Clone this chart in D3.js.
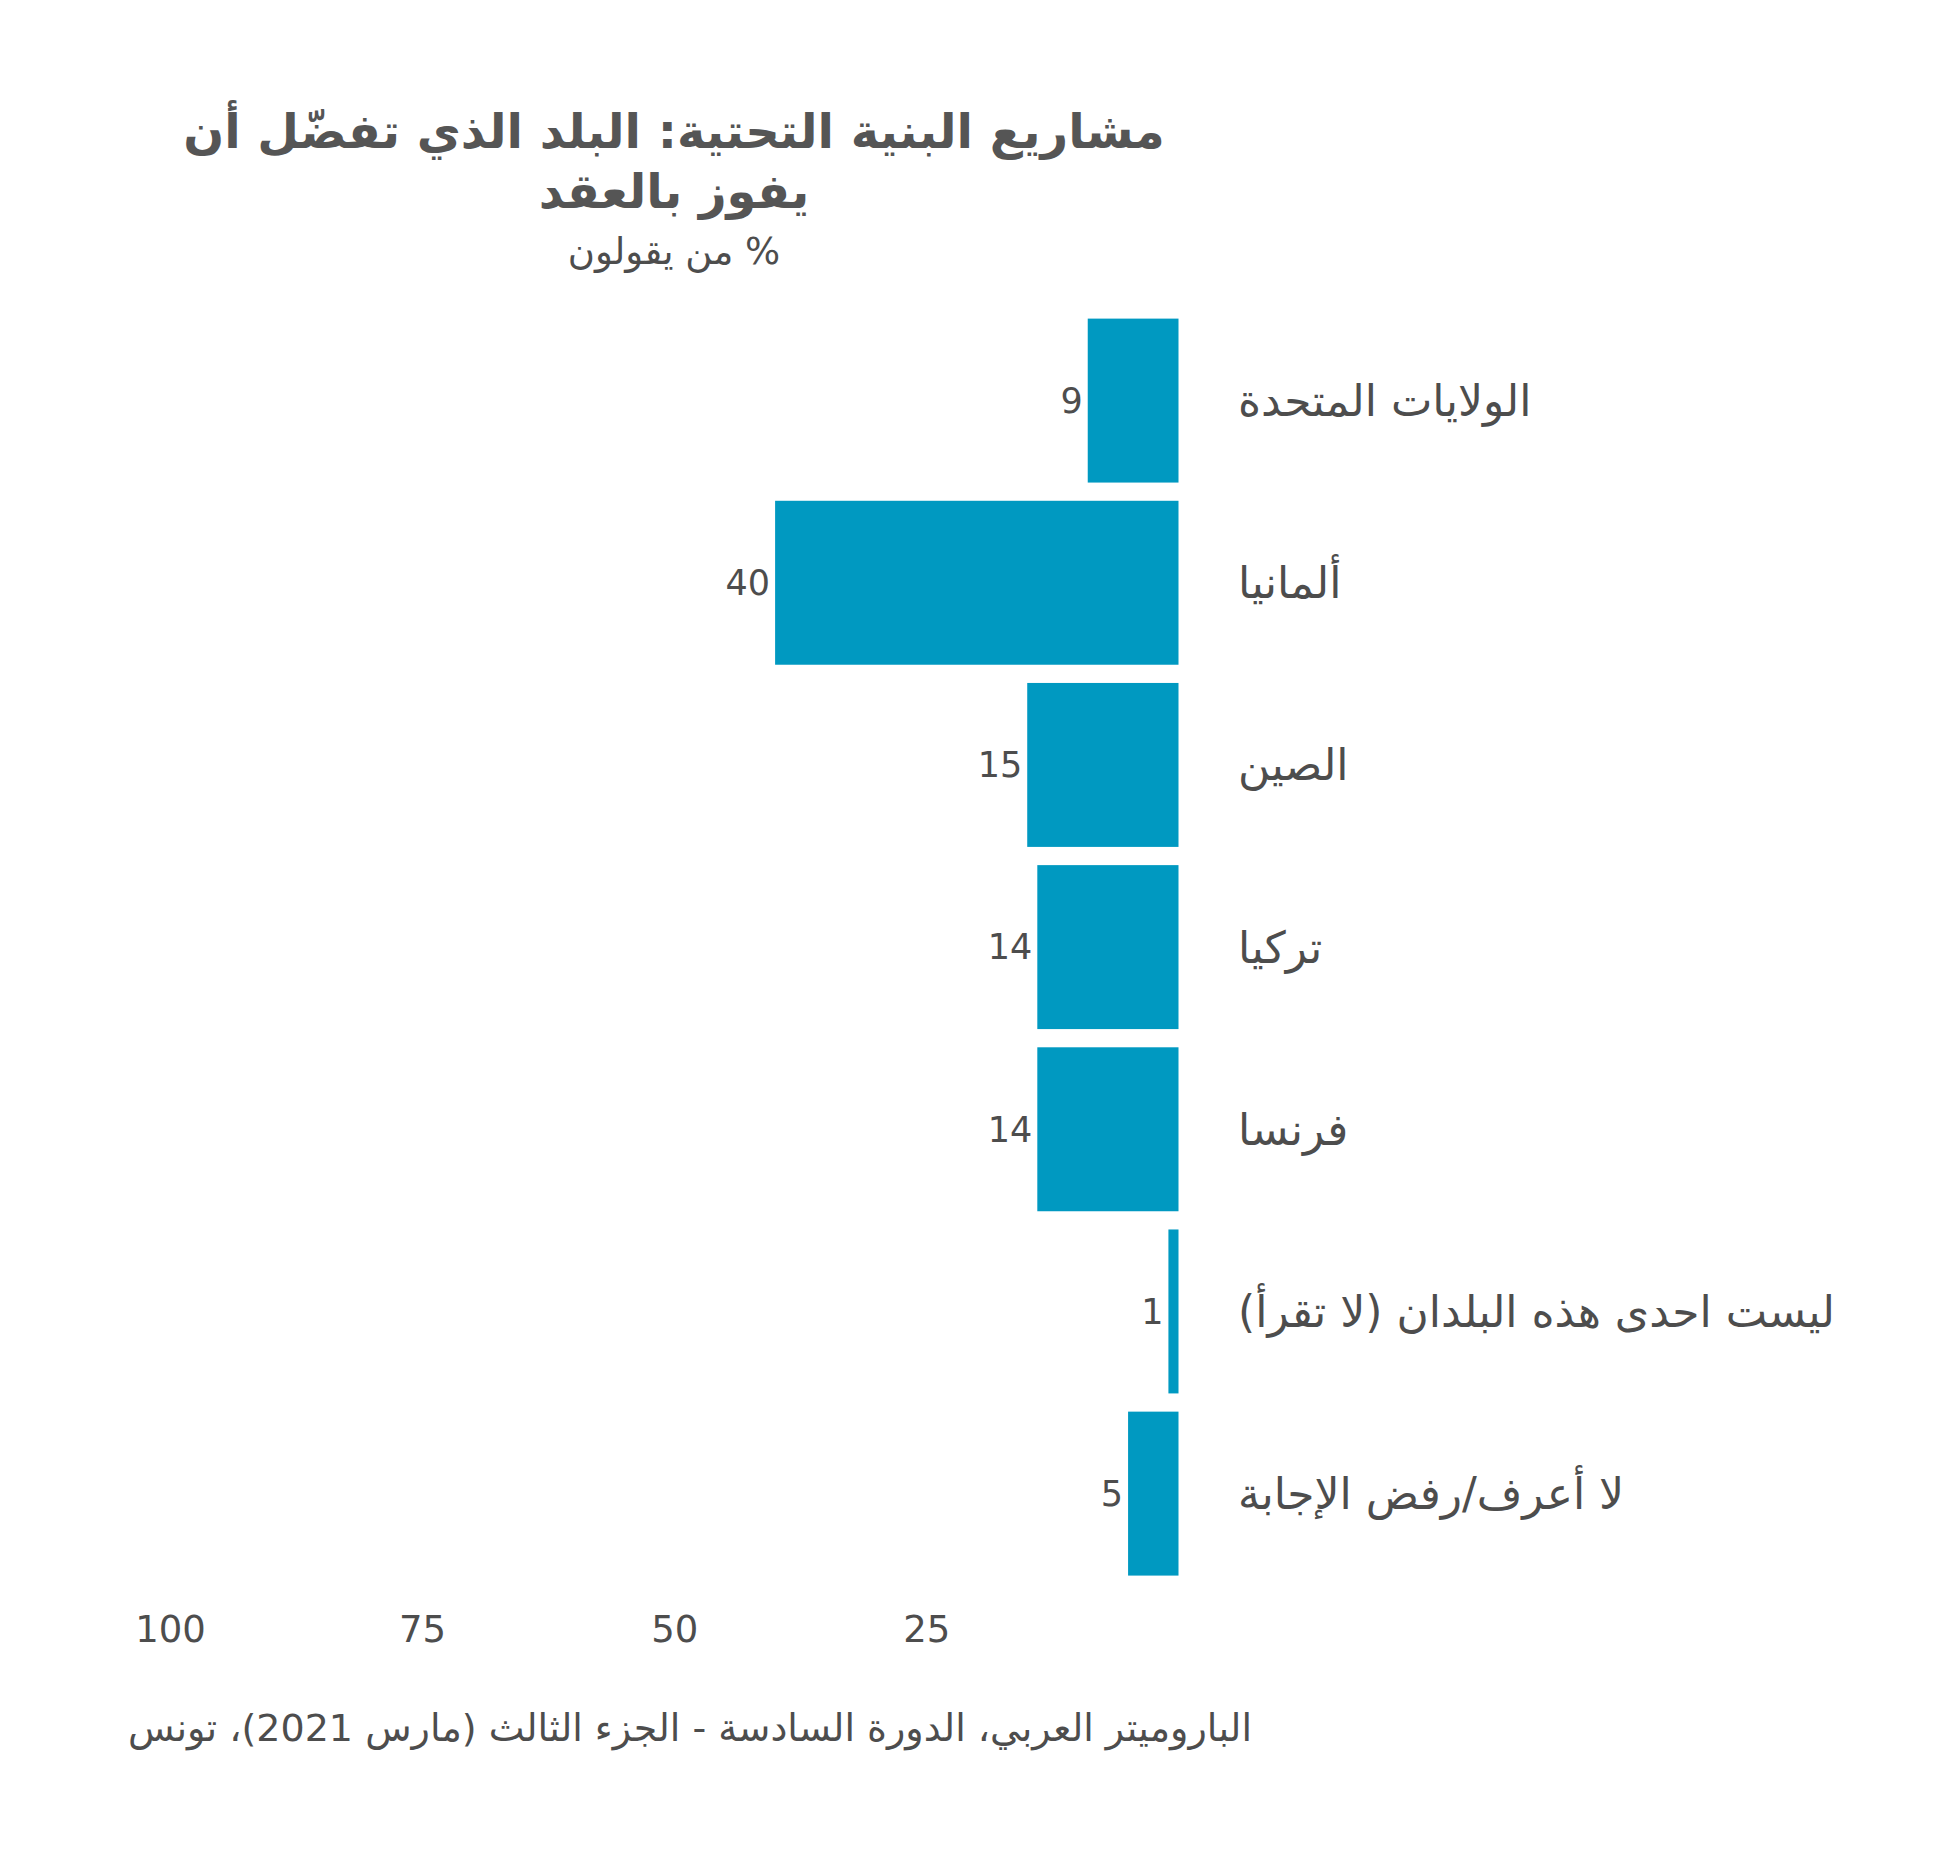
<!DOCTYPE html>
<html>
<head>
<meta charset="utf-8">
<script src="https://cdn.jsdelivr.net/npm/d3@7"></script>
<style>
  body { margin: 0; background: #fff; }
  text { font-family: "DejaVu Sans", "Noto Sans", sans-serif; fill: #4d4d4d; }
</style>
</head>
<body>
<svg id="chart"></svg>
<script>
// data
var categories = ["الولايات المتحدة", "ألمانيا", "الصين", "تركيا", "فرنسا", "ليست احدى هذه البلدان (لا تقرأ)", "لا أعرف/رفض الإجابة"]
var values = [9, 40, 15, 14, 14, 1, 5]
var tickValues = [100, 75, 50, 25]
var titleLines = ["مشاريع البنية التحتية: البلد الذي تفضّل أن", "يفوز بالعقد"]
var subtitle = "% من يقولون"
var source = "الباروميتر العربي، الدورة السادسة - الجزء الثالث (مارس 2021)، تونس"

var width = 1950, height = 1872
var color = "#0099c1"

var data = categories.map((c, i) => ({name: c, value: values[i]}))

var x = d3.scaleLinear()
  .domain([0, 100])
  .range([1178.5, 170])

var y = d3.scaleBand()
  .domain(d3.range(data.length))
  .range([309.5, 1584.7])
  .paddingInner(0.1)
  .paddingOuter(0.05)

const svg = d3.select("#chart")
  .attr("width", width)
  .attr("height", height)
  .attr("viewBox", [0, 0, width, height])

// title
svg.append("text")
  .attr("text-anchor", "middle")
  .attr("direction", "rtl")
  .style("font-weight", "bold")
  .style("font-size", "48px")
  .style("fill", "#555")
  .selectAll("tspan")
  .data(titleLines)
  .join("tspan")
    .attr("x", 674)
    .attr("y", (d, i) => 148 + i * 60)
    .text(d => d)

svg.append("text")
  .attr("x", 674)
  .attr("y", 264)
  .attr("text-anchor", "middle")
  .attr("direction", "rtl")
  .style("font-size", "37px")
  .text(subtitle)

// bars
svg.append("g")
  .attr("fill", color)
  .selectAll("rect")
  .data(data)
  .join("rect")
    .attr("x", d => x(d.value))
    .attr("y", (d, i) => y(i))
    .attr("width", d => x(0) - x(d.value))
    .attr("height", y.bandwidth())

// value labels
svg.append("g")
  .selectAll("text")
  .data(data)
  .join("text")
    .attr("x", d => x(d.value) - 5)
    .attr("y", (d, i) => y(i) + y.bandwidth() / 2)
    .attr("dy", "0.35em")
    .attr("text-anchor", "end")
    .style("font-size", "35px")
    .text(d => d.value)

// category labels
svg.append("g")
  .selectAll("text")
  .data(data)
  .join("text")
    .attr("x", 1238)
    .attr("y", (d, i) => y(i) + y.bandwidth() / 2)
    .attr("dy", "0.35em")
    .attr("direction", "rtl")
    .attr("text-anchor", "end")
    .style("font-size", "44px")
    .text(d => d.name)

// x axis, labels only
var xAxis = g => g
  .attr("transform", `translate(0,1616)`)
  .call(d3.axisBottom(x).tickValues(tickValues).tickSize(0).tickPadding(0))
  .call(g => g.select(".domain").remove())
  .call(g => g.selectAll("text")
      .attr("dy", "0.71em")
      .style("font-size", "37px"))
  .attr("font-family", null)
  .attr("font-size", null)

svg.append("g")
  .call(xAxis)

// source
svg.append("text")
  .attr("x", 1252)
  .attr("y", 1741)
  .attr("direction", "rtl")
  .attr("text-anchor", "start")
  .style("font-size", "38px")
  .text(source)
</script>
</body>
</html>
